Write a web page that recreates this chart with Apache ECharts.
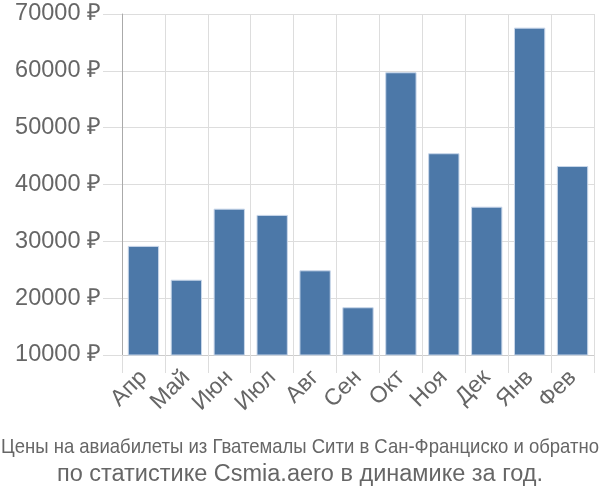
<!DOCTYPE html>
<html><head><meta charset="utf-8">
<script src="https://cdn.jsdelivr.net/npm/echarts@6/dist/echarts.min.js"></script>
<style>html,body{margin:0;padding:0;background:#fff}#c{width:600px;height:500px}</style>
</head><body><div id="c"></div>
<script>
var categories = ['Апр','Май','Июн','Июл','Авг','Сен','Окт','Ноя','Дек','Янв','Фев'];
var prices = [29200, 23250, 35750, 34650, 24900, 18400, 59750, 45500, 36100, 67600, 43250];
var yTicks = {min: 10000, max: 70000, interval: 10000};
var titleLine1 = 'Цены на авиабилеты из Гватемалы Сити в Сан-Франциско и обратно';
var titleLine2 = 'по статистике Csmia.aero в динамике за год.';

var FONT = 'Liberation Sans';
var t1Size = 21;
var ctx = document.createElement('canvas').getContext('2d');
ctx.font = t1Size + 'px "' + FONT + '"';
var t1Scale = Math.min(1, 598 / ctx.measureText(titleLine1).width);

var chart = echarts.init(document.getElementById('c'));
chart.setOption({
  animation: false,
  grid: {left: 122, right: 6, top: 14, bottom: 145},
  graphic: [
    {type: 'text', x: 300, y: 447, scaleX: t1Scale,
     style: {text: titleLine1, fontSize: t1Size, fontFamily: FONT, fill: '#666', align: 'center', verticalAlign: 'middle'}},
    {type: 'text', x: 300, y: 475,
     style: {text: titleLine2, fontSize: 23.5, fontFamily: FONT, fill: '#666', align: 'center', verticalAlign: 'middle'}}
  ],
  xAxis: {
    type: 'category', data: categories,
    axisLine: {lineStyle: {color: '#ccc'}},
    axisTick: {show: true, length: 18, lineStyle: {color: '#ddd'}},
    splitLine: {show: true, lineStyle: {color: '#ddd'}},
    axisLabel: {rotate: 45, fontSize: 23, color: '#666', fontFamily: FONT, margin: 19}
  },
  yAxis: {
    type: 'value', min: yTicks.min, max: yTicks.max, interval: yTicks.interval,
    axisLine: {show: true, lineStyle: {color: '#aaa'}},
    axisTick: {show: true, length: 19, lineStyle: {color: '#ddd'}},
    splitLine: {show: true, lineStyle: {color: '#ddd'}},
    axisLabel: {fontSize: 23.5, color: '#666', fontFamily: FONT, margin: 21,
      formatter: function(v){return v + ' ₽';}}
  },
  series: [{
    type: 'bar', data: prices, barCategoryGap: '27%',
    itemStyle: {color: '#4c78a8', borderColor: '#c9d7ea', borderWidth: 1}
  }]
});
</script></body></html>
